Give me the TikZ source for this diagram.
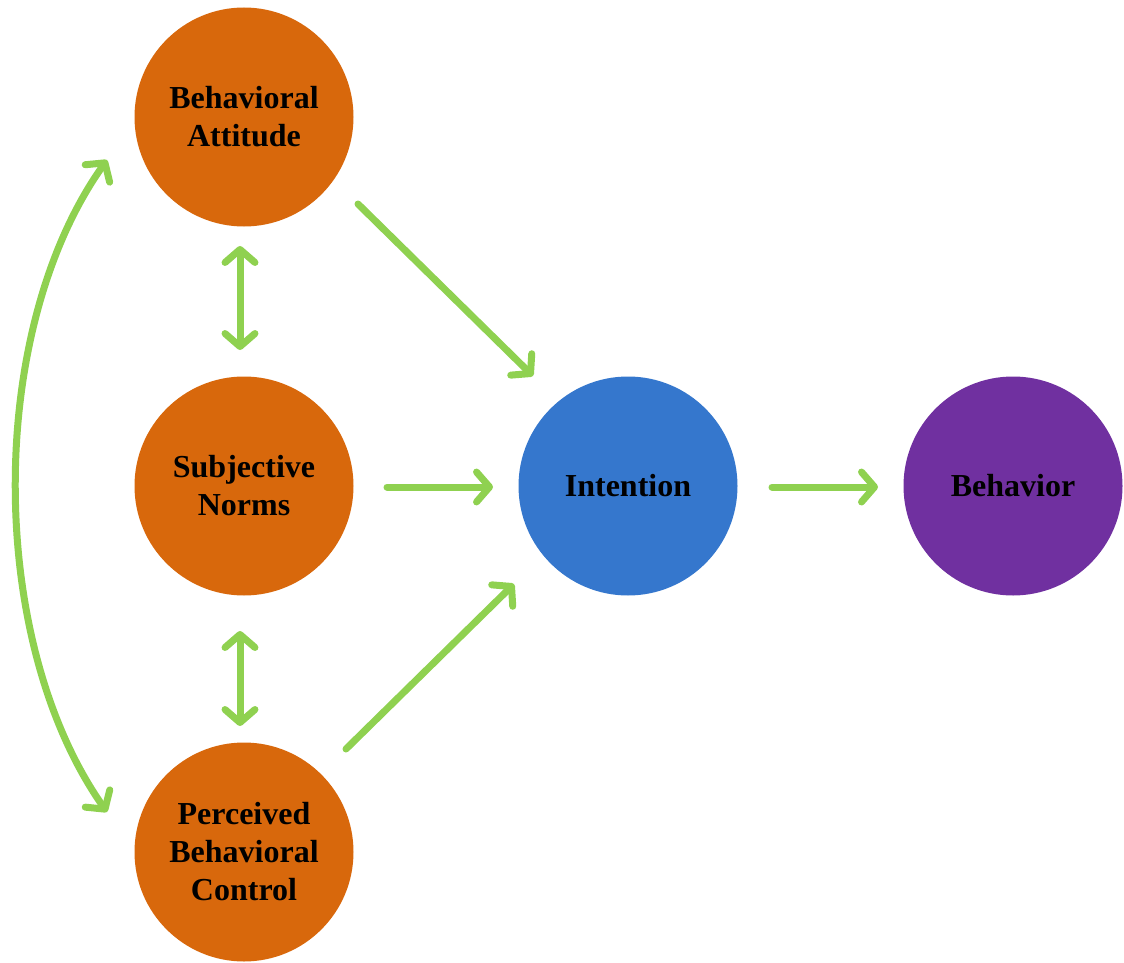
\documentclass[tikz,border=0pt]{standalone}
\usepackage{fontspec}
\setmainfont{Liberation Serif}
\usetikzlibrary{arrows.meta}
\definecolor{orangefill}{HTML}{D8680C}
\definecolor{bluefill}{HTML}{3577CD}
\definecolor{purplefill}{HTML}{7030A0}
\definecolor{linkgreen}{HTML}{8FD150}
\tikzset{
  concept/.style={circle, minimum size=219pt, inner sep=0pt, align=center,
    font=\fontsize{32}{38}\selectfont\bfseries, text=black},
  barbtip/.tip={Straight Barb[length=13pt, width=30pt, round, line width=7pt]},
  link/.style={draw=linkgreen, line width=7pt, line cap=round, arrows={-barbtip}},
  dlink/.style={link, arrows={barbtip-barbtip}}
}
\begin{document}
\begin{tikzpicture}[x=1pt, y=-1pt]
  \useasboundingbox (0,0) rectangle (1124,963);
  \node[concept, fill=orangefill] (att) at (244,117) {Behavioral\\Attitude};
  \node[concept, fill=orangefill] (norm) at (244,486) {Subjective\\Norms};
  \node[concept, fill=orangefill] (pbc) at (244,852) {Perceived\\Behavioral\\Control};
  \node[concept, fill=bluefill] (int) at (628,486) {Intention};
  \node[concept, fill=purplefill] (beh) at (1013,486) {Behavior};

  % links between the three antecedents
  \coordinate (a1) at (240,246);
  \coordinate (a2) at (240,350);
  \coordinate (b1) at (240,631);
  \coordinate (b2) at (240,726);
  \draw[dlink] (a1) -- (a2);
  \draw[dlink] (b1) -- (b2);

  % antecedents to intention
  \coordinate (n1) at (387,487);
  \coordinate (n2) at (493,487);
  \draw[link] (n1) -- (n2);

  \coordinate (t1) at (358,204);
  \coordinate (t2) at (533,376);
  \draw[link] (t1) -- (t2);

  \coordinate (p1) at (346,749);
  \coordinate (p2) at (514,584);
  \draw[link] (p1) -- (p2);

  % intention to behavior
  \coordinate (i1) at (772,487);
  \coordinate (i2) at (878,487);
  \draw[link] (i1) -- (i2);

  % attitude <-> perceived control
  \coordinate (c1) at (107,160);
  \coordinate (c2) at (107,812);
  \draw[dlink] (c1) .. controls (-14,330) and (-14,640) .. (c2);
\end{tikzpicture}
\end{document}
